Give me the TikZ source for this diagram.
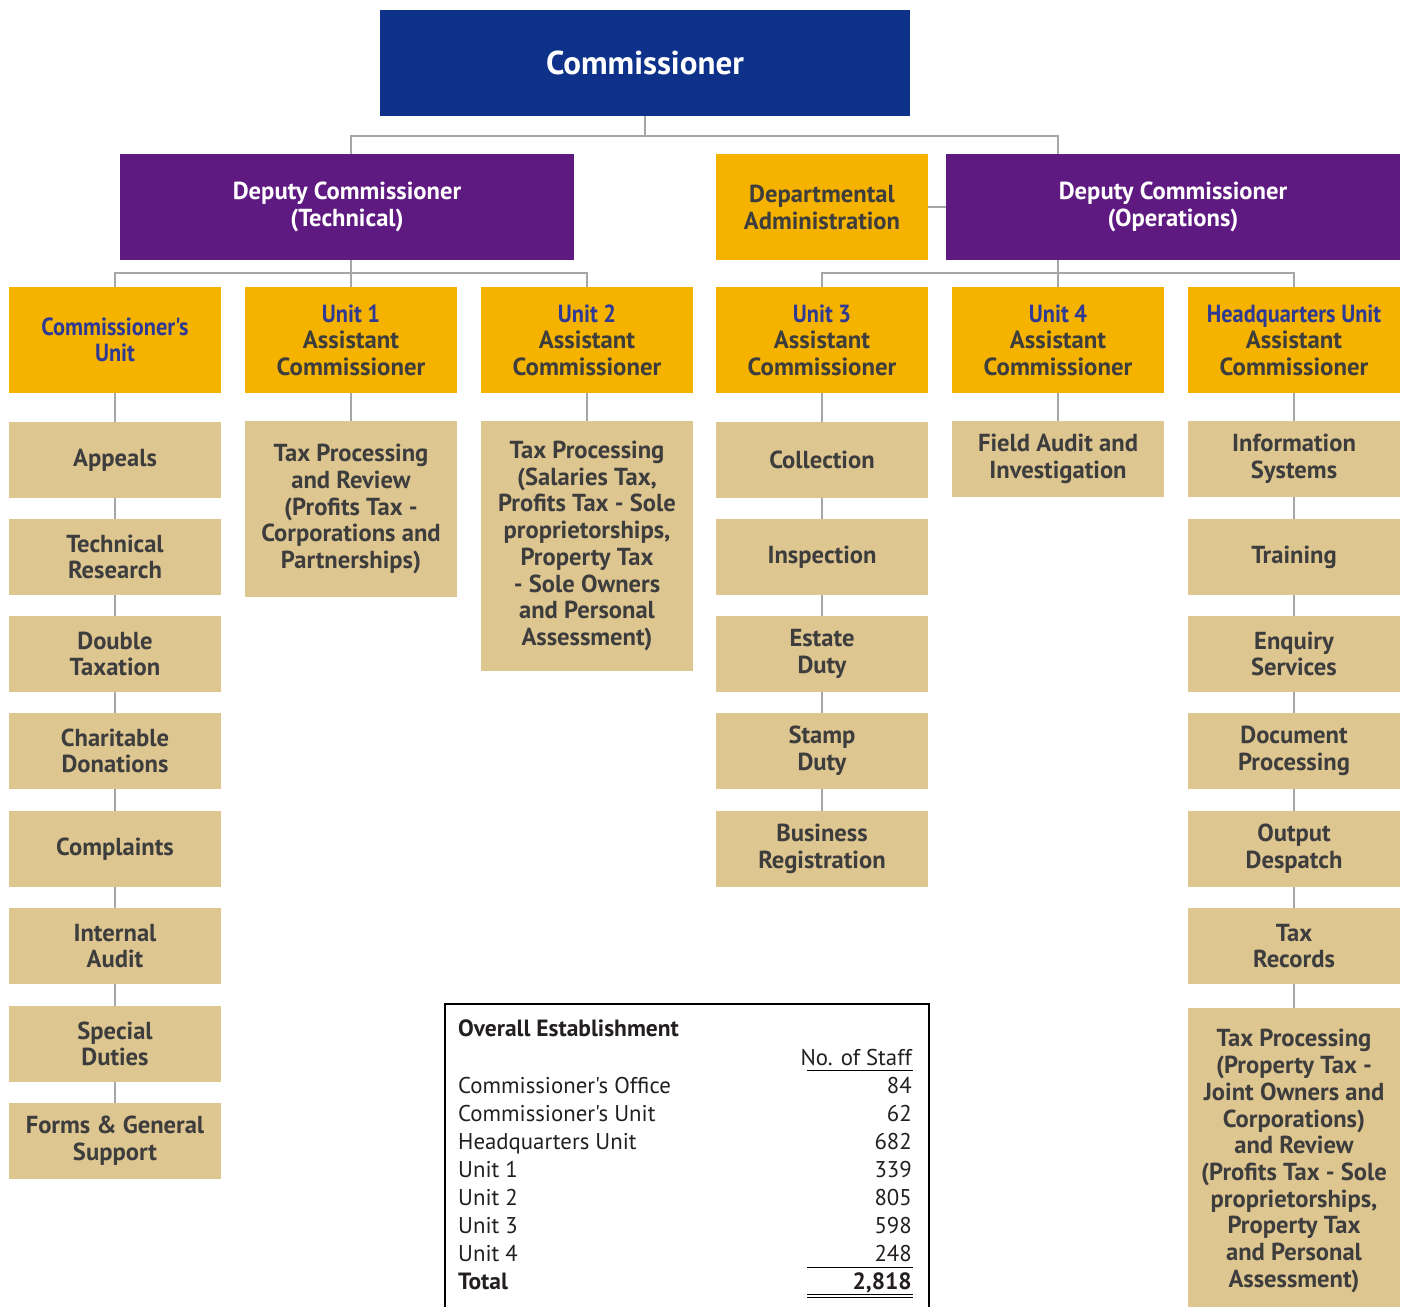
\documentclass[tikz,border=0pt]{standalone}
\usepackage{fontspec}
\setmainfont{PT Sans}[Ligatures=TeXOff]
\newfontfamily\condf{PT Sans}[FakeStretch=0.9,Ligatures=TeXOff]
\definecolor{navy}{RGB}{14,49,137}
\definecolor{purp}{RGB}{95,26,130}
\definecolor{orng}{RGB}{245,179,0}
\definecolor{tan}{RGB}{222,198,145}
\definecolor{txt}{RGB}{61,61,61}
\definecolor{blu}{RGB}{46,58,147}
\definecolor{lgrey}{RGB}{166,166,166}
\definecolor{tabk}{RGB}{35,31,32}
\begin{document}
\begin{tikzpicture}[x=1pt,y=-1pt,
  conn/.style={draw=lgrey, line width=2pt},
  basebox/.style={rectangle, inner sep=0pt, align=center},
  navybox/.style={basebox, fill=navy, text=white, minimum width=530pt, minimum height=106pt, font={\bfseries\fontsize{33}{36}\selectfont}},
  purpbox/.style={basebox, fill=purp, text=white, minimum width=454pt, minimum height=106pt, font={\bfseries\fontsize{24.6}{27}\selectfont}},
  orgbox/.style={basebox, fill=orng, text=txt, minimum width=212pt, minimum height=106pt, font={\bfseries\fontsize{24.8}{26.6}\selectfont}},
  tanbox/.style={basebox, fill=tan, text=txt, minimum width=212pt, minimum height=76pt, font={\bfseries\fontsize{24.6}{26.7}\selectfont}},
  tabtxt/.style={inner sep=0pt, text=tabk, font={\fontsize{22.8}{24}\selectfont}},
  tabbold/.style={tabtxt, font={\bfseries\fontsize{23.5}{24}\selectfont}},
  rulel/.style={draw=black, line width=1pt}
]
\useasboundingbox (0,0) rectangle (1405,1306);

% top levels
\node[navybox] (comm) at (645,63) {Commissioner};
\node[purpbox] (dct) at (347,207) {Deputy Commissioner\\(Technical)};
\node[purpbox] (dco) at (1173,207) {Deputy Commissioner\\(Operations)};
\node[orgbox, font={\bfseries\fontsize{24.6}{27}\selectfont}] (da) at (822,207) {Departmental\\Administration};

% level 3
\node[orgbox, text=blu, font={\condf\bfseries\fontsize{24.8}{26.6}\selectfont}] (cu) at (115,340) {Commissioner's\\Unit};
\node[orgbox] (u1) at (351,340) {\textcolor{blu}{\condf Unit 1}\\Assistant\\Commissioner};
\node[orgbox] (u2) at (587,340) {\textcolor{blu}{\condf Unit 2}\\Assistant\\Commissioner};
\node[orgbox] (u3) at (822,340) {\textcolor{blu}{\condf Unit 3}\\Assistant\\Commissioner};
\node[orgbox] (u4) at (1058,340) {\textcolor{blu}{\condf Unit 4}\\Assistant\\Commissioner};
\node[orgbox] (hq) at (1294,340) {\textcolor{blu}{\condf Headquarters Unit}\\Assistant\\Commissioner};

% column 1
\node[tanbox] (a1) at (115,460) {Appeals};
\node[tanbox] (a2) at (115,557) {Technical\\Research};
\node[tanbox] (a3) at (115,654) {Double\\Taxation};
\node[tanbox] (a4) at (115,751) {Charitable\\Donations};
\node[tanbox] (a5) at (115,849) {Complaints};
\node[tanbox] (a6) at (115,946) {Internal\\Audit};
\node[tanbox] (a7) at (115,1044) {Special\\Duties};
\node[tanbox] (a8) at (115,1141) {Forms \& General\\Support};

% column 2
\node[tanbox, minimum height=176pt] (b1) at (351,509) {Tax Processing\\and Review\\(Profits Tax -\\Corporations and\\Partnerships)};

% column 3
\node[tanbox, minimum height=250pt] (c1) at (587,546) {Tax Processing\\(Salaries Tax,\\Profits Tax - Sole\\proprietorships,\\Property Tax\\- Sole Owners\\and Personal\\Assessment)};

% column 4
\node[tanbox] (d1) at (822,460) {Collection};
\node[tanbox] (d2) at (822,557) {Inspection};
\node[tanbox] (d3) at (822,654) {Estate\\Duty};
\node[tanbox] (d4) at (822,751) {Stamp\\Duty};
\node[tanbox] (d5) at (822,849) {Business\\Registration};

% column 5
\node[tanbox] (e1) at (1058,459) {Field Audit and\\Investigation};

% column 6
\node[tanbox] (f1) at (1294,459) {Information\\Systems};
\node[tanbox] (f2) at (1294,557) {Training};
\node[tanbox] (f3) at (1294,654) {Enquiry\\Services};
\node[tanbox] (f4) at (1294,751) {Document\\Processing};
\node[tanbox] (f5) at (1294,849) {Output\\Despatch};
\node[tanbox] (f6) at (1294,946) {Tax\\Records};
\node[tanbox, minimum height=306pt] (f7) at (1294,1161) {Tax Processing\\(Property Tax -\\Joint Owners and\\Corporations)\\and Review\\(Profits Tax - Sole\\proprietorships,\\Property Tax\\and Personal\\Assessment)};

% connectors top
\coordinate (topbus) at (645,136);
\draw[conn] (comm.south) -- (topbus);
\draw[conn] (topbus) -| (dct.north -| u1.north);
\draw[conn] (topbus) -| (dco.north -| u4.north);
\draw[conn] (da.east) -- (dco.west);

% connectors technical
\coordinate (tbus) at (351,273);
\draw[conn] (dct.south -| u1.north) -- (u1.north);
\draw[conn] (cu.north) |- (tbus) -| (u2.north);
% connectors operations
\coordinate (obus) at (1058,273);
\draw[conn] (dco.south -| u4.north) -- (u4.north);
\draw[conn] (u3.north) |- (obus) -| (hq.north);

% column chains
\draw[conn] (cu.south) -- (a1.north);
\foreach \p/\q in {a1/a2,a2/a3,a3/a4,a4/a5,a5/a6,a6/a7,a7/a8}
  \draw[conn] (\p.south) -- (\q.north);
\draw[conn] (u1.south) -- (b1.north);
\draw[conn] (u2.south) -- (c1.north);
\draw[conn] (u3.south) -- (d1.north);
\foreach \p/\q in {d1/d2,d2/d3,d3/d4,d4/d5}
  \draw[conn] (\p.south) -- (\q.north);
\draw[conn] (u4.south) -- (e1.north);
\draw[conn] (hq.south) -- (f1.north);
\foreach \p/\q in {f1/f2,f2/f3,f3/f4,f4/f5,f5/f6,f6/f7}
  \draw[conn] (\p.south) -- (\q.north);

% table
\node[draw=black, line width=1.6pt, minimum width=484pt, minimum height=330pt, anchor=north west, inner sep=0pt] (tbl) at (444,1003) {};
\node[tabbold, anchor=base west] (th) at (458,1036) {Overall Establishment};
\node[tabtxt, anchor=base east] (ns) at (912,1065) {No. of Staff};
\node[tabtxt, anchor=base west] (r1) at (458,1093) {Commissioner's Office};
\node[tabtxt, anchor=base east] (n1) at (912,1093) {84};
\node[tabtxt, anchor=base west] (r2) at (458,1121) {Commissioner's Unit};
\node[tabtxt, anchor=base east] (n2) at (912,1121) {62};
\node[tabtxt, anchor=base west] (r3) at (458,1149) {Headquarters Unit};
\node[tabtxt, anchor=base east] (n3) at (912,1149) {682};
\node[tabtxt, anchor=base west] (r4) at (458,1177) {Unit 1};
\node[tabtxt, anchor=base east] (n4) at (912,1177) {339};
\node[tabtxt, anchor=base west] (r5) at (458,1205) {Unit 2};
\node[tabtxt, anchor=base east] (n5) at (912,1205) {805};
\node[tabtxt, anchor=base west] (r6) at (458,1233) {Unit 3};
\node[tabtxt, anchor=base east] (n6) at (912,1233) {598};
\node[tabtxt, anchor=base west] (r7) at (458,1261) {Unit 4};
\node[tabtxt, anchor=base east] (n7) at (912,1261) {248};
\node[tabbold, anchor=base west] (rt) at (458,1289) {Total};
\node[tabbold, anchor=base east] (nt) at (912,1289) {2,818};
\draw[rulel] (807,1070.5) -- (913,1070.5);
\draw[rulel] (807,1267.5) -- (913,1267.5);
\draw[rulel] (807,1294) -- (913,1294);
\draw[rulel] (807,1297.5) -- (913,1297.5);
\end{tikzpicture}
\end{document}
